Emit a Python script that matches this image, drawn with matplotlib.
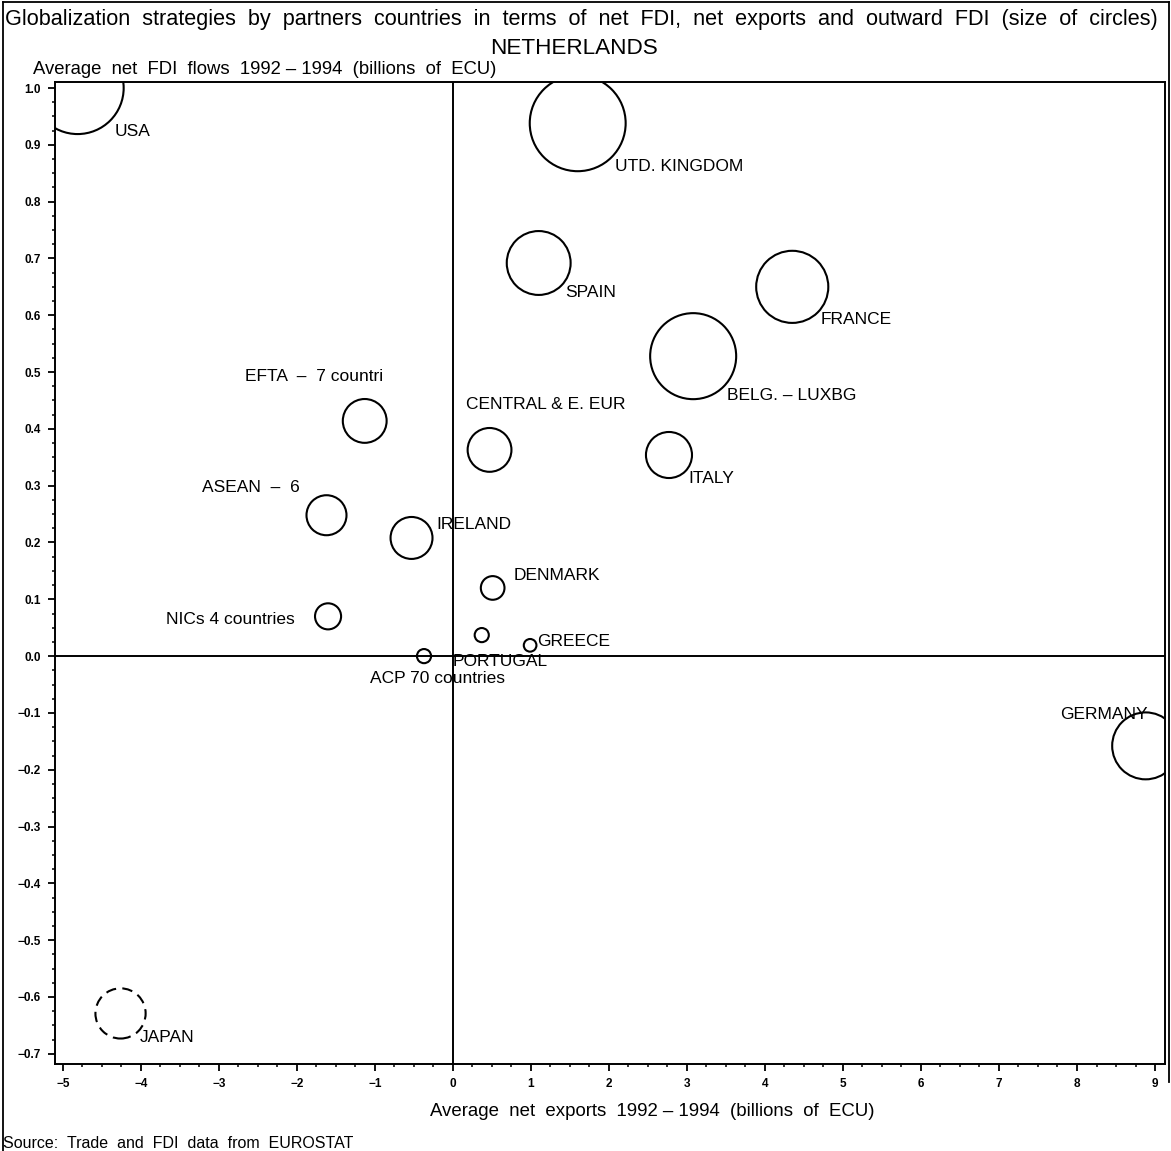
import matplotlib.pyplot as plt
from matplotlib.lines import Line2D
from matplotlib.ticker import MultipleLocator

# fonts (Helvetica-like)
plt.rcParams['font.family'] = ['Liberation Sans', 'DejaVu Sans']

# data
countries = ['USA', 'UTD. KINGDOM', 'SPAIN', 'FRANCE', 'BELG. – LUXBG', 'ITALY',
             'CENTRAL & E. EUR', 'EFTA  –  7 countri', 'ASEAN  –  6', 'IRELAND',
             'DENMARK', 'NICs 4 countries', 'PORTUGAL', 'ACP 70 countries',
             'GREECE', 'GERMANY', 'JAPAN']
net_exports = [-4.81, 1.60, 1.10, 4.35, 3.08, 2.77, 0.47, -1.13, -1.62, -0.53,
               0.51, -1.60, 0.37, -0.37, 0.99, 8.88, -4.26]
net_fdi = [1.00, 0.938, 0.692, 0.650, 0.528, 0.354, 0.363, 0.414, 0.248, 0.208,
           0.120, 0.070, 0.037, 0.0, 0.019, -0.158, -0.629]
# outward FDI (circle size), negative -> dashed circle
outward_fdi = [2.12, 2.30, 1.02, 1.30, 1.85, 0.53, 0.48, 0.48, 0.40, 0.44,
               0.14, 0.17, 0.05, 0.05, 0.04, 1.12, -0.63]

x_ticks = list(range(-5, 10))
y_ticks = [1.0, 0.9, 0.8, 0.7, 0.6, 0.5, 0.4, 0.3, 0.2, 0.1, 0.0,
           -0.1, -0.2, -0.3, -0.4, -0.5, -0.6, -0.7]

# label offsets from circle centre (pixels)
label_offsets = {
    'USA': (37, -43), 'UTD. KINGDOM': (37, -43), 'SPAIN': (26, -30),
    'FRANCE': (28, -33), 'BELG. – LUXBG': (34, -39), 'ITALY': (19, -23),
    'CENTRAL & E. EUR': (-24, 45), 'EFTA  –  7 countri': (-120, 44),
    'ASEAN  –  6': (-124, 28), 'IRELAND': (25, 13), 'DENMARK': (21, 12),
    'NICs 4 countries': (-33, -3), 'PORTUGAL': (-29, -26),
    'ACP 70 countries': (-54, -22), 'GREECE': (7, 4), 'GERMANY': (-86, 31),
    'JAPAN': (19, -24),
}

W, H = 1171, 1151
fig = plt.figure(figsize=(W / 100, H / 100), dpi=100)
ax = fig.add_axes([55 / W, 1 - 1064 / H, (1165 - 55) / W, (1064 - 82) / H])

# circles
pos = [i for i, v in enumerate(outward_fdi) if v >= 0]
neg = [i for i, v in enumerate(outward_fdi) if v < 0]
k = 2073.6  # marker area per unit of outward FDI
ax.scatter([net_exports[i] for i in pos], [net_fdi[i] for i in pos],
           s=[k * outward_fdi[i] for i in pos], facecolors='none',
           edgecolors='black', linewidths=1.5, zorder=3)
ax.scatter([net_exports[i] for i in neg], [net_fdi[i] for i in neg],
           s=[k * abs(outward_fdi[i]) for i in neg], facecolors='none',
           edgecolors='black', linewidths=1.5, linestyles=(0, (5, 3)), zorder=3)

for name, xv, yv in zip(countries, net_exports, net_fdi):
    dx, dy = label_offsets[name]
    ha = 'right' if name == 'NICs 4 countries' else 'left'
    ax.annotate(name, (xv, yv), xytext=(dx, dy), textcoords='offset pixels',
                ha=ha, va='center', fontsize=12.5, zorder=4)

# reference lines
ax.axhline(0, color='black', lw=1.4, zorder=2)
ax.axvline(0, color='black', lw=1.4, zorder=2)

# axes
ax.set_xlim(-5.10, 9.128)
ax.set_ylim(-0.718, 1.0106)
ax.set_xticks(x_ticks)
ax.set_yticks(y_ticks)
ax.set_xticklabels([str(t).replace('-', '\u2212') for t in x_ticks])
ax.set_yticklabels([f'{t:.1f}'.replace('-', '\u2212') if t != 0 else '0.0' for t in y_ticks])
ax.xaxis.set_minor_locator(MultipleLocator(0.25))
ax.yaxis.set_minor_locator(MultipleLocator(0.025))
ax.tick_params(which='major', direction='out', length=5, width=1.3,
               labelsize=8.5, pad=5)
ax.tick_params(which='minor', direction='out', length=2.5, width=1.1)
for lab in ax.get_xticklabels() + ax.get_yticklabels():
    lab.set_fontweight('bold')
for sp in ax.spines.values():
    sp.set_linewidth(1.4)

# texts
fig.text(5 / W, 1 - 20 / H,
         'Globalization  strategies  by  partners  countries  in  terms  of  net  FDI,  net  exports  and  outward  FDI  (size  of  circles)',
         ha='left', va='center', fontsize=15.6)
fig.text(574 / W, 1 - 48 / H, 'NETHERLANDS', ha='center', va='center', fontsize=16.2)
fig.text(33 / W, 1 - 70 / H, 'Average  net  FDI  flows  1992 – 1994  (billions  of  ECU)',
         ha='left', va='center', fontsize=13.3)
fig.text(652 / W, 1 - 1111 / H, 'Average  net  exports  1992 – 1994  (billions  of  ECU)',
         ha='center', va='center', fontsize=13.4)
fig.text(3 / W, 1 - 1143 / H, 'Source:  Trade  and  FDI  data  from  EUROSTAT',
         ha='left', va='center', fontsize=11.5)

# outer border (left, top, right)
fig.add_artist(Line2D([3 / W, 3 / W], [0, 1 - 2 / H], color='black', lw=1.3))
fig.add_artist(Line2D([3 / W, 1169 / W], [1 - 2 / H, 1 - 2 / H], color='black', lw=1.3))
fig.add_artist(Line2D([1169 / W, 1169 / W], [0.06, 1 - 2 / H], color='black', lw=1.3))

fig.savefig('out.png', dpi=100)
